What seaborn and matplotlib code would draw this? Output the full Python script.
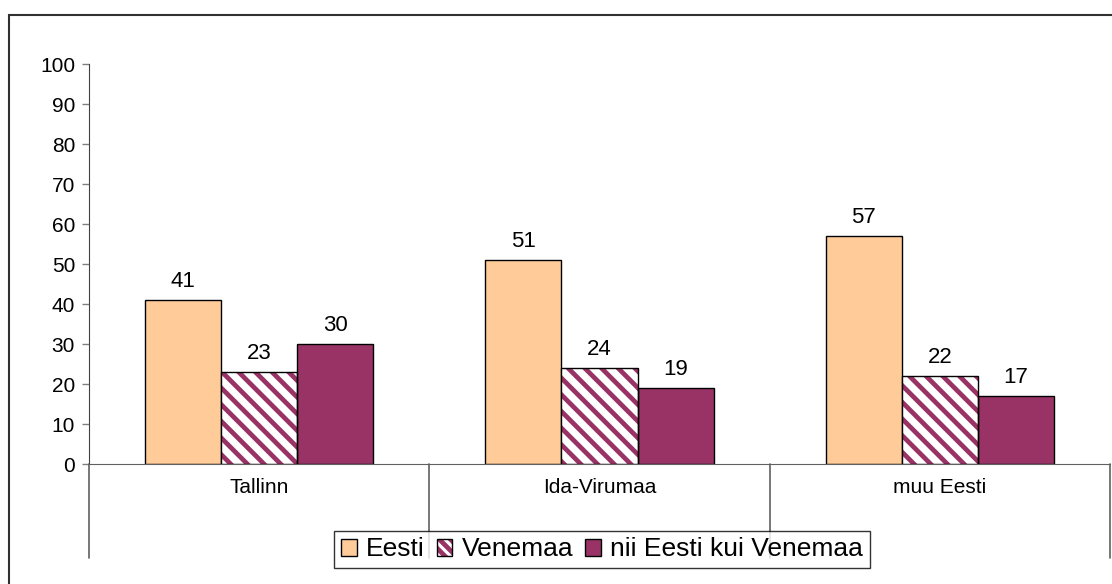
import pandas as pd
import matplotlib
matplotlib.use("Agg")
import matplotlib.pyplot as plt
import seaborn as sns
from matplotlib.patches import Patch, Rectangle
from matplotlib.legend_handler import HandlerTuple
import matplotlib.transforms as mtransforms

# andmed
piirkonnad = ["Tallinn", "Ida-Virumaa", "muu Eesti"]
riigid = ["Eesti", "Venemaa", "nii Eesti kui Venemaa"]
eesti = [41, 51, 57]
venemaa = [23, 24, 22]
molemad = [30, 19, 17]
y_ticks = [0, 10, 20, 30, 40, 50, 60, 70, 80, 90, 100]

PEACH = "#FFCC99"
PLUM = "#993366"

df = pd.DataFrame({
    "piirkond": piirkonnad * 3,
    "riik": [riigid[0]] * 3 + [riigid[1]] * 3 + [riigid[2]] * 3,
    "väärtus": eesti + venemaa + molemad,
})

sns.set_style("white")
plt.rcParams["font.family"] = ["Liberation Sans", "DejaVu Sans"]
plt.rcParams["text.color"] = "black"
plt.rcParams["xtick.color"] = "black"
plt.rcParams["ytick.color"] = "black"
plt.rcParams["hatch.linewidth"] = 3.4

fig = plt.figure(figsize=(11.12, 5.84), dpi=100)
ax = fig.add_axes([89 / 1112, 1 - 464 / 584, (1110 - 89) / 1112, 400 / 584])

sns.barplot(data=df, x="piirkond", y="väärtus", hue="riik",
            palette=[PEACH, "white", PLUM], saturation=1, width=0.67,
            edgecolor="black", linewidth=1, legend=False, ax=ax)

# Venemaa: valge taust, ploomivärvi viirutus
for p in ax.containers[1]:
    p.set_edgecolor(PLUM)
    p.set_linewidth(0)
    p.set_hatch("\\\\")
    ax.add_patch(Rectangle(p.get_xy(), p.get_width(), p.get_height(),
                           fill=False, edgecolor="black", linewidth=1, zorder=3))

for c in ax.containers:
    ax.bar_label(c, fmt="%.0f", padding=6, fontsize=16, color="black")

ax.set_ylim(0, 100)
ax.set_xlim(-0.5, 2.5)
ax.set_yticks(y_ticks)
ax.set_xlabel("")
ax.set_ylabel("")
ax.tick_params(axis="y", labelsize=15, length=5, width=1, color="#808080",
               labelcolor="black", left=True, pad=5)
ax.tick_params(axis="x", labelsize=15, length=0, pad=10, labelcolor="black")
for s in ["top", "right"]:
    ax.spines[s].set_visible(False)
ax.spines["left"].set_color("#404040")
ax.spines["bottom"].set_color("#606060")
ax.spines["left"].set_bounds(0, 100)

# kategooriate eraldusjooned telje all
trans = mtransforms.blended_transform_factory(ax.transData, ax.transAxes)
for xi in [-0.5, 0.5, 1.5, 2.5]:
    ax.plot([xi, xi], [0, -94 / 400], color="#606060", lw=1.2,
            transform=trans, clip_on=False)

# välimine raam
fig.patches.append(Rectangle((9 / 1112, -0.1), 1.2, 1 - 15 / 584 + 0.1,
                             transform=fig.transFigure, fill=False,
                             edgecolor="#303030", linewidth=1.5))

handles = [
    Patch(facecolor=PEACH, edgecolor="black", linewidth=1),
    (Patch(facecolor="white", edgecolor=PLUM, hatch="\\\\\\", linewidth=0),
     Patch(fill=False, edgecolor="black", linewidth=1)),
    Patch(facecolor=PLUM, edgecolor="black", linewidth=1),
]
leg = fig.legend(handles, riigid, loc="center", bbox_to_anchor=(602 / 1112, 1 - 549.5 / 584),
                 ncol=3, fontsize=19, frameon=True, fancybox=False,
                 handlelength=0.6, handleheight=0.6, handletextpad=0.35,
                 columnspacing=0.45, borderpad=0.25,
                 handler_map={tuple: HandlerTuple(ndivide=1)})
leg.get_frame().set_edgecolor("black")
leg.get_frame().set_linewidth(1)

fig.savefig("out.png", dpi=100)
